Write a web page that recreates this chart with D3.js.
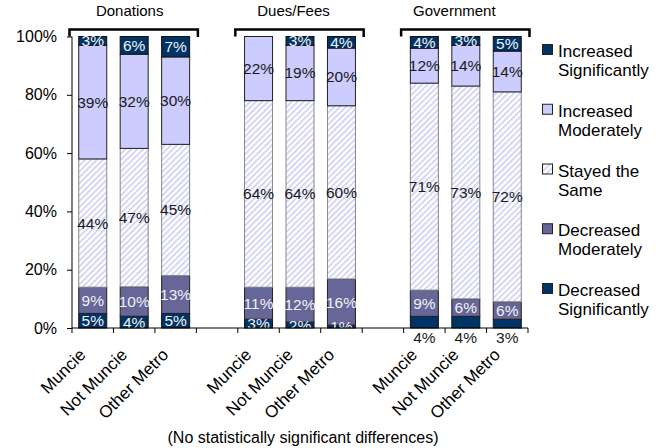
<!DOCTYPE html>
<html><head><meta charset="utf-8">
<script src="https://cdn.jsdelivr.net/npm/d3@7"></script>
<style>
html,body{margin:0;padding:0;background:#fff;}
svg{display:block;font-family:"Liberation Sans",Arial,sans-serif;}
</style></head>
<body><svg id="c" width="668" height="448"></svg>
<script>
const groups = ["Donations","Dues/Fees","Government"];
const sites = ["Muncie","Not Muncie","Other Metro"];
const seriesNames = ["Decreased Significantly","Decreased Moderately","Stayed the Same","Increased Moderately","Increased Significantly"];
const decSig = [5,4,5, 3,2,1, 4,4,3];
const decMod = [9,10,13, 11,12,16, 9,6,6];
const same   = [44,47,45, 64,64,60, 71,73,72];
const incMod = [39,32,30, 22,19,20, 12,14,14];
const incSig = [3,6,7, 0,3,4, 4,3,5];
const yTicks = [0,20,40,60,80,100];
const footnote = "(No statistically significant differences)";

const seriesVals = [decSig, decMod, same, incMod, incSig];
const fills = ["#003366","#666699","url(#stripe)","#ccccff","#003366"];
const strokes = ["#111","#222","#888","#222","#111"];
const labelColors = ["#f2f2f2","#f2f2f2","#1a1a1a","#1a1a1a","#f2f2f2"];

const svg = d3.select("#c");
const defs = svg.append("defs");
const pat = defs.append("pattern").attr("id","stripe").attr("patternUnits","userSpaceOnUse")
  .attr("width",4.2).attr("height",4.2).attr("patternTransform","rotate(45)");
pat.append("rect").attr("width",4.2).attr("height",4.2).attr("fill","#fff");
pat.append("rect").attr("x",0).attr("width",1.9).attr("height",4.2).attr("fill","#d4d4f6");
defs.append("clipPath").attr("id","plotclip").append("rect")
  .attr("x",60).attr("y",35.5).attr("width",480).attr("height",292.5);

const x = d3.scaleBand().domain(d3.range(11)).range([72,528]).padding(0);
const y = d3.scaleLinear().domain([0,100]).range([328,36.5]);
const barW = 28;

const bars = [];
groups.forEach((g,gi)=>{
  sites.forEach((s,si)=>{
    const i = gi*3+si;
    const slot = gi*4+si;
    const vals = seriesVals.map(a=>a[i]);
    const tot = d3.sum(vals);
    let acc = 0;
    vals.forEach((v,k)=>{
      const y0 = acc/tot*100; acc += v; const y1 = acc/tot*100;
      bars.push({gi,si,slot,k,v,y0,y1});
    });
  });
});

const cx = d => x(d.slot) + x.bandwidth()/2;

svg.append("g").selectAll("rect").data(bars.filter(d=>d.v>0)).join("rect")
  .attr("x",d=>cx(d)-barW/2).attr("width",barW)
  .attr("y",d=>y(d.y1)).attr("height",d=>y(d.y0)-y(d.y1))
  .attr("fill",d=>fills[d.k]).attr("stroke",d=>strokes[d.k]).attr("stroke-width",1);

const lab = svg.append("g").attr("font-size",15.5);
lab.append("g").attr("clip-path","url(#plotclip)").selectAll("text")
  .data(bars.filter(d=>d.v>0 && !(d.gi===2 && d.k===0))).join("text")
  .attr("x",d=>cx(d)).attr("y",d=>y((d.y0+d.y1)/2))
  .attr("text-anchor","middle").attr("dominant-baseline","central")
  .attr("fill",d=>labelColors[d.k]).text(d=>d.v+"%");
lab.append("g").selectAll("text")
  .data(bars.filter(d=>d.gi===2 && d.k===0)).join("text")
  .attr("x",d=>cx(d)).attr("y",337)
  .attr("text-anchor","middle").attr("dominant-baseline","central")
  .attr("fill","#1a1a1a").text(d=>d.v+"%");

const ya = svg.append("g").attr("transform","translate(72,0)")
  .call(d3.axisLeft(y).tickValues(yTicks).tickSize(5).tickPadding(10).tickFormat(d=>d+"%"));
ya.select(".domain").attr("stroke","#000").attr("d","M0,"+y(100)+"V"+y(0));
ya.selectAll("text").attr("font-size",16).attr("fill","#000").attr("font-family","Liberation Sans, Arial, sans-serif");
ya.selectAll("line").attr("stroke","#000");

const xa = svg.append("g");
xa.append("line").attr("x1",72).attr("x2",528).attr("y1",328).attr("y2",328).attr("stroke","#000");
xa.selectAll("line.t").data(d3.range(12)).join("line").attr("class","t")
  .attr("x1",i=>i<11?x(i):x(10)+x.bandwidth()).attr("x2",i=>i<11?x(i):x(10)+x.bandwidth())
  .attr("y1",328).attr("y2",333).attr("stroke","#000");

const catData = [];
groups.forEach((g,gi)=>sites.forEach((s,si)=>catData.push({slot:gi*4+si,name:s})));
svg.append("g").selectAll("text").data(catData).join("text")
  .attr("transform",d=>`translate(${x(d.slot)+x.bandwidth()/2-10},352) rotate(-45)`)
  .attr("text-anchor","end").attr("dominant-baseline","central")
  .attr("font-size",17).attr("fill","#000").text(d=>d.name);

const titleShift = [-4,-6,-11];
groups.forEach((g,gi)=>{
  const x0 = x(gi*4)-2.5, x1 = x(gi*4+2)+x.bandwidth()+1.5;
  svg.append("path").attr("d",`M${x0},36.5V29.5H${x1}V37`).attr("fill","none")
    .attr("stroke","#000").attr("stroke-width",2.5);
  svg.append("text").attr("x",(x0+x1)/2+titleShift[gi]).attr("y",16)
    .attr("text-anchor","middle").attr("font-size",15).attr("fill","#000").text(g);
});

const legOrder = [4,3,2,1,0];
const legNames = [["Increased","Significantly"],["Increased","Moderately"],["Stayed the","Same"],["Decreased","Moderately"],["Decreased","Significantly"]];
const leg = svg.append("g");
legOrder.forEach((k,j)=>{
  const ty = 44 + j*59.75;
  leg.append("rect").attr("x",542.5).attr("y",ty+0.5).attr("width",10).attr("height",10)
    .attr("fill",fills[k]).attr("stroke","#222").attr("stroke-width",1);
  const t = leg.append("text").attr("x",558).attr("y",ty+13).attr("font-size",17).attr("fill","#000");
  legNames[j].forEach((ln,li)=>t.append("tspan").attr("x",558).attr("dy",li?19:0).text(ln));
});

svg.append("text").attr("x",303).attr("y",443).attr("text-anchor","middle")
  .attr("font-size",16).attr("fill","#000").text(footnote);
</script></body></html>
